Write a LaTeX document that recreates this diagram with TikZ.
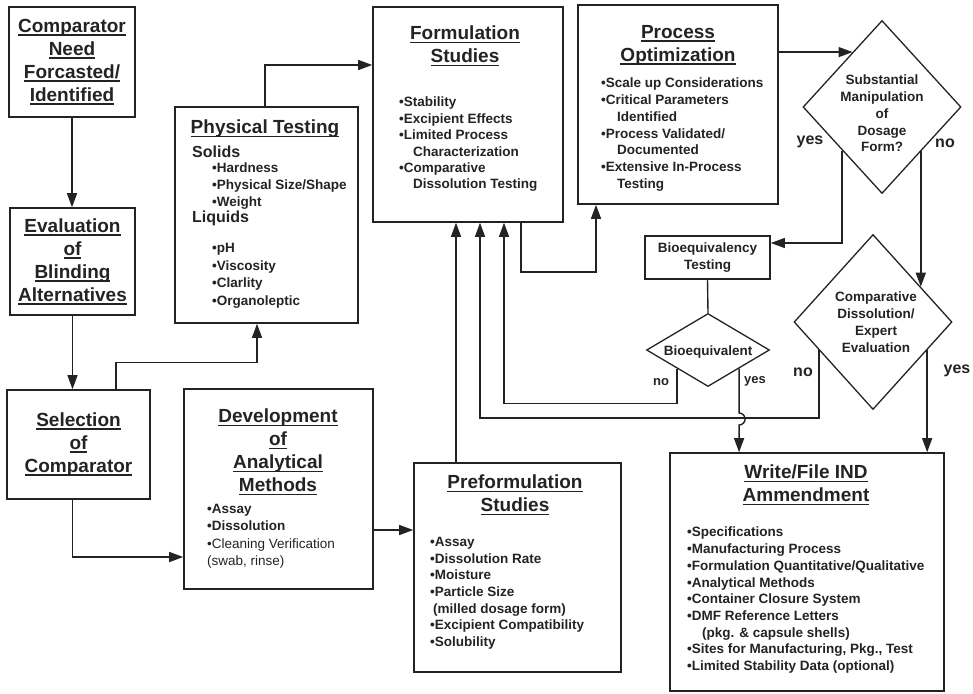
\documentclass[tikz,border=0pt]{standalone}
\usepackage{fontspec}
\setmainfont{Liberation Sans}
\usepackage{tikz}
\usetikzlibrary{arrows.meta, positioning, shapes.geometric, calc}
\usepackage{xcolor}
\definecolor{inkgray}{RGB}{35,35,35}
\newcommand{\hdr}[1]{\sbox0{#1}\rlap{\rule[-3.5pt]{\wd0}{1.5pt}}\usebox0}
\newcommand{\bt}{\textbullet}

\begin{document}
\begin{tikzpicture}[x=1pt, y=-1pt,
        box/.style={rectangle, draw=inkgray, line width=1.6pt, inner sep=0pt},
        decision/.style={diamond, draw=inkgray, line width=1.3pt, inner sep=0pt},
        head/.style={font=\bfseries\fontsize{19}{23}\selectfont, align=center, inner sep=0pt, text=inkgray},
        sub/.style={font=\bfseries\fontsize{16}{18}\selectfont, inner sep=0pt, anchor=north west, text=inkgray},
        items/.style={font=\bfseries\fontsize{13.5}{16.7}\selectfont, align=left, inner sep=0pt, anchor=north west, text=inkgray},
        small/.style={font=\bfseries\fontsize{13.5}{16.7}\selectfont, align=center, inner sep=0pt, text=inkgray},
        answer/.style={font=\bfseries\fontsize{16}{18}\selectfont, inner sep=0pt, text=inkgray},
        reply/.style={font=\bfseries\fontsize{13}{15}\selectfont, inner sep=0pt, text=inkgray},
        arrow/.style={-{Triangle[length=14pt, width=10pt]}, line width=1.4pt, inkgray},
        link/.style={line width=1.4pt, inkgray}
    ]
        \useasboundingbox (0,0) rectangle (973,693);

        \node[box, head, minimum width=126pt, minimum height=110pt] (cn) at (72,62)
            {\hdr{Comparator}\\\hdr{Need}\\\hdr{Forcasted/}\\\hdr{Identified}};
        \node[box, head, minimum width=125pt, minimum height=107pt] (ev) at (72.5,261.5)
            {\hdr{Evaluation}\\\hdr{of}\\\hdr{Blinding}\\\hdr{Alternatives}};
        \node[box, head, minimum width=143pt, minimum height=109pt] (sc) at (78.5,444.5)
            {\hdr{Selection}\\\hdr{of}\\\hdr{Comparator}};

        \node[box, minimum width=183pt, minimum height=216pt] (pt) at (266.5,215) {};
        \node[head, anchor=north] (pt-t) at (265,120) {\hdr{Physical Testing}};
        \node[sub] (pt-s) at (192,146) {Solids};
        \node[items] (pt-sl) at (212,163) {\bt Hardness\\\bt Physical Size/Shape\\\bt Weight};
        \node[sub] (pt-q) at (192,211) {Liquids};
        \node[items, font=\bfseries\fontsize{13.5}{17.6}\selectfont] (pt-ql) at (212,243)
            {\bt pH\\\bt Viscosity\\\bt Clarlity\\\bt Organoleptic};

        \node[box, minimum width=189pt, minimum height=200pt] (dam) at (278.5,489) {};
        \node[head, anchor=north] (dam-t) at (278,409)
            {\hdr{Development}\\\hdr{of}\\\hdr{Analytical}\\\hdr{Methods}};
        \node[items, font=\bfseries\fontsize{13.5}{17.3}\selectfont] (dam-l) at (207,504)
            {\bt Assay\\\bt Dissolution\\{\mdseries\bt Cleaning Verification}\\{\mdseries (swab, rinse)}};

        \node[box, minimum width=190pt, minimum height=215pt] (fs) at (468,114.5) {};
        \node[head, anchor=north] (fs-t) at (465,26) {\hdr{Formulation}\\\hdr{Studies}};
        \node[items, font=\bfseries\fontsize{13.5}{16.4}\selectfont] (fs-l) at (399,97)
            {\bt Stability\\\bt Excipient Effects\\\bt Limited Process\\\hspace*{14pt}Characterization\\
             \bt Comparative\\\hspace*{14pt}Dissolution Testing};

        \node[box, minimum width=200pt, minimum height=199pt] (po) at (678,104.5) {};
        \node[head, anchor=north] (po-t) at (678,25) {\hdr{Process}\\\hdr{Optimization}};
        \node[items] (po-l) at (601,78)
            {\bt Scale up Considerations\\\bt Critical Parameters\\\hspace*{16pt}Identified\\
             \bt Process Validated/\\\hspace*{16pt}Documented\\\bt Extensive In-Process\\\hspace*{16pt}Testing};

        \node[box, minimum width=207pt, minimum height=209pt] (pf) at (517.5,567.5) {};
        \node[head, anchor=north] (pf-t) at (515,475) {\hdr{Preformulation}\\\hdr{Studies}};
        \node[items] (pf-l) at (430,537)
            {\bt Assay\\\bt Dissolution Rate\\\bt Moisture\\\bt Particle Size\\\hspace*{3pt}(milled dosage form)\\
             \bt Excipient Compatibility\\\bt Solubility};

        \node[box, minimum width=274pt, minimum height=238pt] (wf) at (807,572) {};
        \node[head, anchor=north] (wf-t) at (806,465) {\hdr{Write/File IND}\\\hdr{Ammendment}};
        \node[items] (wf-l) at (687,527)
            {\bt Specifications\\\bt Manufacturing Process\\\bt Formulation Quantitative/Qualitative\\
             \bt Analytical Methods\\\bt Container Closure System\\\bt DMF Reference Letters\\
             \hspace*{15pt}(pkg. \& capsule shells)\\\bt Sites for Manufacturing, Pkg., Test\\
             \bt Limited Stability Data (optional)};

        \node[box, small, minimum width=125pt, minimum height=43pt] (bqt) at (707.5,257.5)
            {Bioequivalency\\Testing};

        \node[decision, minimum width=158pt, minimum height=173pt] (sm) at (882,107) {};
        \node[small, anchor=north] (sm-t) at (882,75) {Substantial\\Manipulation\\of\\Dosage\\Form?};
        \node[decision, minimum width=158pt, minimum height=175pt] (cd) at (873,322) {};
        \node[small, anchor=north] (cd-t) at (876,292) {Comparative\\Dissolution/\\Expert\\Evaluation};
        \node[decision, minimum width=123pt, minimum height=73pt] (bq) at (708,350) {};
        \node[small, anchor=north] (bq-t) at (708,346) {Bioequivalent};

        \node[answer] (sm-yes) at (810,142) {yes};
        \node[answer] (sm-no) at (945,143) {no};
        \node[answer] (cd-no) at (803,372) {no};
        \node[answer] (cd-yes) at (957,371) {yes};
        \node[reply] (bq-no) at (661,382) {no};
        \node[reply] (bq-yes) at (755,381) {yes};

        \coordinate (smin) at ($(sm.north)!0.37!(sm.west)$);
        \coordinate (cdin) at ($(cd.north)!0.6!(cd.east)$);
        \coordinate (cdno) at ($(cd.west)!0.32!(cd.south)$);
        \coordinate (cdyes) at ($(cd.east)!0.32!(cd.south)$);

        \draw[arrow] (cn.south) -- (cn.south |- ev.north);
        \draw[arrow] (ev.south) -- (ev.south |- sc.north);
        \draw[arrow] (sc.north -| 116,0) -- ++(0,-27) -| (pt.south -| 257,0);
        \draw[arrow] (sc.south -| ev.south) |- (dam.west |- 0,557);
        \draw[arrow] (dam.east |- 0,530) -- (pf.west |- 0,530);
        \draw[arrow] (pt.north -| 265,0) |- (fs.west |- 0,65);
        \draw[arrow] (pf.north -| 456,0) -- (fs.south -| 456,0);
        \draw[arrow] (bq.south west) -- ++(0,35) -| (fs.south -| 504,0);
        \draw[arrow] (cdno) -- (cdno |- 0,418) -| (fs.south -| 480,0);
        \draw[arrow] (bq.south east) -- (bq.south east |- 0,413)
            arc[start angle=90, end angle=-90, radius=6pt] -- (wf.north -| bq.south east);
        \draw[arrow] (fs.south -| 521,0) -- ++(0,49) -| (po.south -| 596,0);
        \draw[arrow] (po.east |- smin) -- (smin);
        \draw[arrow] (sm.south west) |- (bqt.east |- 0,243);
        \draw[arrow] (sm.south east -| cdin) -- (cdin);
        \draw[link] (bqt.south) -- (bq.north);
        \draw[arrow] (cdyes) -- (wf.north -| cdyes);
    \end{tikzpicture}
\end{document}
